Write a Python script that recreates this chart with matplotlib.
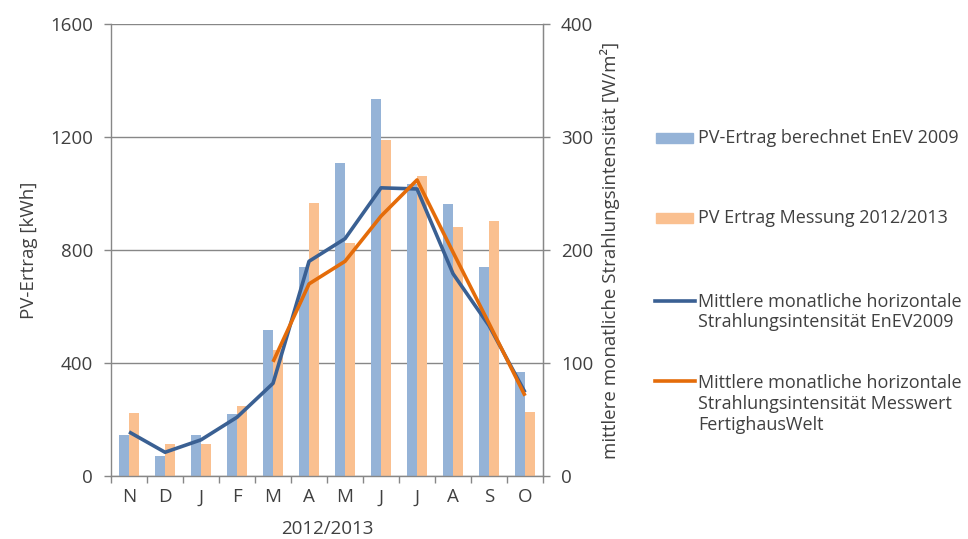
import numpy as np
import matplotlib
matplotlib.use("Agg")
import matplotlib.pyplot as plt
from matplotlib.patches import Rectangle
from matplotlib.lines import Line2D

plt.rcParams['font.family'] = ['Open Sans', 'DejaVu Sans']

months = ["N", "D", "J", "F", "M", "A", "M", "J", "J", "A", "S", "O"]
pv_enev = [145, 72, 145, 221, 517, 740, 1107, 1333, 1034, 962, 739, 368]
pv_messung = [224, 112, 112, 248, 446, 965, 825, 1189, 1062, 881, 903, 228]
strahlung_enev = [39, 21, 32, 52, 82, 190, 210, 255, 254, 179, 133, 74]
strahlung_mess = [np.nan, np.nan, np.nan, np.nan, 101, 170, 190, 230, 262, 198, 135, 71]

left_ticks = [0, 400, 800, 1200, 1600]
right_ticks = [0, 100, 200, 300, 400]

c_bar_blue = "#95B3D7"
c_bar_orange = "#FAC090"
c_line_blue = "#3A6093"
c_line_orange = "#E46C0A"
c_text = "#404040"
c_axis = "#878787"

tick_fs = 13.5
label_fs = 13.5
legend_fs = 13

fig = plt.figure(figsize=(9.68, 5.39), dpi=100)
ax = fig.add_axes([0.1147, 0.1169, 0.4463, 0.8386])

x = np.arange(len(months))
w = 0.29
ax.bar(x - w / 2, pv_enev, width=w, color=c_bar_blue, zorder=2)
ax.bar(x + w / 2, pv_messung, width=w, color=c_bar_orange, zorder=2)

ax.set_xlim(-0.5, len(months) - 0.5)
ax.set_ylim(0, 1600)
ax.set_yticks(left_ticks)
ax.set_axisbelow(True)
ax.grid(axis='y', color=c_axis, linewidth=1.0)

ax.set_xticks(x)
ax.set_xticklabels(months)
ax.set_xticks(np.arange(-0.5, len(months)), minor=True)
ax.tick_params(axis='x', which='major', length=0, pad=9, labelsize=tick_fs, labelcolor=c_text)
ax.tick_params(axis='x', which='minor', length=5, color=c_axis, width=1)
ax.tick_params(axis='y', length=5, color=c_axis, width=1, labelsize=tick_fs, labelcolor=c_text, pad=8)

ax.spines["top"].set_visible(False)
for s in ["left", "right", "bottom"]:
    ax.spines[s].set_color(c_axis)
    ax.spines[s].set_linewidth(1.0)

ax.set_ylabel("PV-Ertrag [kWh]", fontsize=label_fs, color=c_text, labelpad=9)
ax.set_xlabel("2012/2013", fontsize=label_fs, color=c_text, labelpad=10)

ax2 = ax.twinx()
ax2.plot(x, strahlung_enev, color=c_line_blue, linewidth=2.6, solid_capstyle='butt', zorder=3)
ax2.plot(x, strahlung_mess, color=c_line_orange, linewidth=2.6, solid_capstyle='butt', zorder=3)
ax2.set_ylim(0, 400)
ax2.set_yticks(right_ticks)
ax2.tick_params(axis='y', length=5, color=c_axis, width=1, labelsize=tick_fs, labelcolor=c_text, pad=8)
for s in ["top", "left", "bottom"]:
    ax2.spines[s].set_visible(False)
ax2.spines["right"].set_color(c_axis)
ax2.set_ylabel("mittlere monatliche Strahlungsintensität [W/m²]", fontsize=label_fs,
               color=c_text, labelpad=5)

# legend drawn in figure coordinates
W, H = 968.0, 539.0
def fx(px):
    return px / W
def fy(py):
    return 1 - py / H

fig.add_artist(Rectangle((fx(656), fy(143)), fx(693) - fx(656), 10 / H,
                         transform=fig.transFigure, color=c_bar_blue))
fig.text(fx(698), fy(138), "PV-Ertrag berechnet EnEV 2009", fontsize=legend_fs, color=c_text,
         va='center', ha='left')
fig.add_artist(Rectangle((fx(656), fy(223)), fx(693) - fx(656), 10 / H,
                         transform=fig.transFigure, color=c_bar_orange))
fig.text(fx(698), fy(218), "PV Ertrag Messung 2012/2013", fontsize=legend_fs, color=c_text,
         va='center', ha='left')
fig.add_artist(Line2D([fx(655), fx(695)], [fy(301), fy(301)], transform=fig.transFigure,
                      color=c_line_blue, linewidth=2.6))
fig.text(fx(698), fy(312), "Mittlere monatliche horizontale\nStrahlungsintensität EnEV2009",
         fontsize=legend_fs, color=c_text, va='center', ha='left', linespacing=1.2)
fig.add_artist(Line2D([fx(655), fx(695)], [fy(381), fy(381)], transform=fig.transFigure,
                      color=c_line_orange, linewidth=2.6))
fig.text(fx(698), fy(404), "Mittlere monatliche horizontale\nStrahlungsintensität Messwert\nFertighausWelt",
         fontsize=legend_fs, color=c_text, va='center', ha='left', linespacing=1.2)

fig.savefig("out.png", dpi=100)
